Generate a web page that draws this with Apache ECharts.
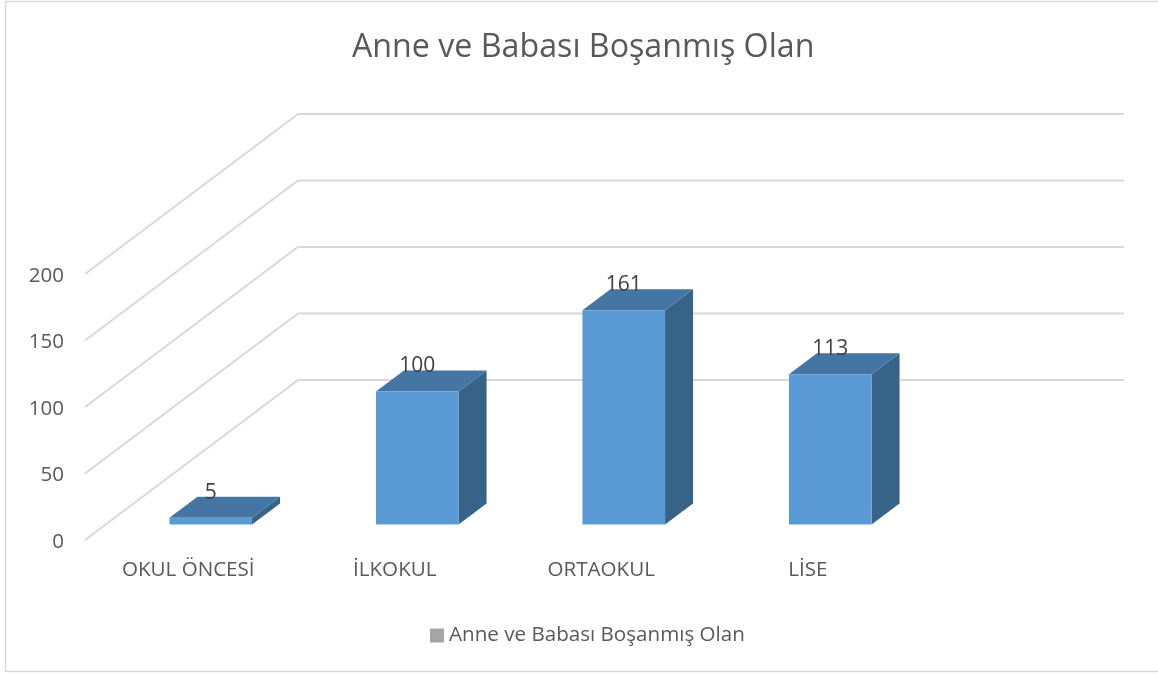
<!DOCTYPE html>
<html>
<head>
<meta charset="utf-8">
<style>html,body{margin:0;padding:0;background:#fff}#c{width:1158px;height:674px}</style>
<script src="https://cdn.jsdelivr.net/npm/echarts@6/dist/echarts.min.js"></script>
</head>
<body>
<div id="c"></div>
<script>
const titleText = 'Anne ve Babası Boşanmış Olan';
const seriesName = 'Anne ve Babası Boşanmış Olan';
const categories = ['OKUL ÖNCESİ', 'İLKOKUL', 'ORTAOKUL', 'LİSE'];
const values = [5, 100, 161, 113];
const ticks = [0, 50, 100, 150, 200];

const font = '"Open Sans", "Noto Sans", sans-serif';
const wallDX = 213, wallDY = 160;     // floor depth of the wall
const barDX = 22.5, barDY = 15.5;     // bar offset from front of floor
const depthDX = 28, depthDY = 21;     // bar depth

const chart = echarts.init(document.getElementById('c'), null, {renderer: 'canvas'});
chart.setOption({
  animation: false,
  backgroundColor: '#ffffff',
  title: {
    text: titleText, left: 347, top: 27,
    textStyle: {fontFamily: font, fontSize: 32.2, fontWeight: 'normal', color: '#595959'}
  },
  legend: {
    left: 425, top: 620, itemWidth: 14, itemHeight: 14, itemGap: 6,
    icon: 'rect',
    data: [{name: seriesName, icon: 'rect', itemStyle: {color: '#a5a5a5'}}],
    textStyle: {fontFamily: font, fontSize: 20.6, color: '#595959'},
    selectedMode: false
  },
  graphic: [{
    type: 'rect', silent: true, z: -1,
    shape: {x: 5.5, y: 1.5, width: 1170, height: 670},
    style: {fill: 'none', stroke: '#d9d9d9', lineWidth: 1.5}
  }],
  grid: {left: 85, top: 274, width: 826, height: 266, containLabel: false},
  xAxis: {
    type: 'category', data: categories,
    axisLine: {show: false}, axisTick: {show: false}, splitLine: {show: false},
    axisLabel: {margin: 20, fontFamily: font, fontSize: 20.6, color: '#595959'}
  },
  yAxis: {
    type: 'value', min: ticks[0], max: ticks[ticks.length - 1], interval: 50,
    axisLine: {show: false}, axisTick: {show: false}, splitLine: {show: false},
    axisLabel: {margin: 21, fontFamily: font, fontSize: 20.5, color: '#595959', verticalAlign: 'top', lineHeight: 4}
  },
  series: [
    {
      type: 'custom', name: 'grid-wall', silent: true, z: 1, clip: false,
      coordinateSystem: 'cartesian2d',
      encode: {x: 0, y: 1},
      data: ticks.map(t => [0, t]),
      renderItem(params, api) {
        const y = api.coord([0, api.value(1)])[1];
        const x0 = params.coordSys.x, w = params.coordSys.width;
        return {
          type: 'polyline',
          shape: {points: [[x0, y], [x0 + wallDX, y - wallDY], [x0 + wallDX + w, y - wallDY]]},
          style: {fill: 'none', stroke: '#d9d9d9', lineWidth: 2}
        };
      }
    },
    {
      type: 'custom', name: seriesName, z: 3, clip: false,
      coordinateSystem: 'cartesian2d',
      encode: {x: 0, y: 1},
      data: values.map((v, i) => [i, v]),
      itemStyle: {color: '#a5a5a5'},
      renderItem(params, api) {
        const i = api.value(0), v = api.value(1);
        const base = api.coord([i, 0]), top = api.coord([i, v]);
        const band = api.size([1, 0])[0];
        const w = band * 0.4;
        const xl = base[0] + barDX - w / 2, xr = xl + w;
        const yb = base[1] - barDY, yt = top[1] - barDY;
        return {
          type: 'group',
          children: [
            {type: 'polygon', shape: {points: [[xr, yb], [xr + depthDX, yb - depthDY], [xr + depthDX, yt - depthDY], [xr, yt]]},
             style: {fill: '#376389'}},
            {type: 'polygon', shape: {points: [[xl, yt], [xl + depthDX, yt - depthDY], [xr + depthDX, yt - depthDY], [xr, yt]]},
             style: {fill: '#4575a3'}},
            {type: 'rect', shape: {x: xl, y: yt, width: w, height: yb - yt},
             style: {fill: '#5b9bd5'}},
            {type: 'text', x: (xl + xr) / 2, y: yt - 25,
             style: {text: String(v), fontFamily: font, fontSize: 21, fill: '#404040', align: 'center', verticalAlign: 'middle'}}
          ]
        };
      }
    }
  ]
});
</script>
</body>
</html>
